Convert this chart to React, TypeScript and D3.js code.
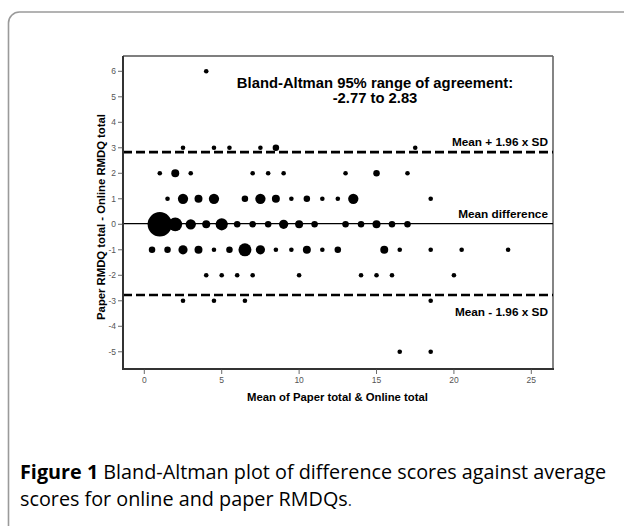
import React from "react";
import * as d3 from "d3";

// Data: mean of paper & online totals (x), difference paper - online (y), number of subjects (dot size)
const meanScore: number[] = [
  4.0,
  2.5, 4.5, 5.5, 7.5, 8.5, 17.5,
  1.0, 2.0, 3.0, 7.0, 8.0, 9.0, 13.0, 15.0, 17.0,
  1.5, 2.5, 3.5, 4.5, 6.5, 7.5, 8.5, 9.5, 10.5, 11.5, 12.5, 13.5, 18.5,
  1.0, 2.0, 3.0, 4.0, 5.0, 6.0, 7.0, 8.0, 9.0, 10.0, 11.0, 13.0, 14.0, 15.0, 16.0, 17.0,
  0.5, 1.5, 2.5, 3.5, 4.5, 5.5, 6.5, 7.5, 8.5, 9.5, 10.5, 11.5, 12.5, 15.5, 16.5, 18.5, 20.5, 23.5,
  4.0, 5.0, 6.0, 7.0, 10.0, 14.0, 15.0, 16.0, 20.0,
  2.5, 4.5, 6.5, 18.5,
  16.5, 18.5,
];
const diffScore: number[] = [
  6,
  3, 3, 3, 3, 3, 3,
  2, 2, 2, 2, 2, 2, 2, 2, 2,
  1, 1, 1, 1, 1, 1, 1, 1, 1, 1, 1, 1, 1,
  0, 0, 0, 0, 0, 0, 0, 0, 0, 0, 0, 0, 0, 0, 0, 0,
  -1, -1, -1, -1, -1, -1, -1, -1, -1, -1, -1, -1, -1, -1, -1, -1, -1, -1,
  -2, -2, -2, -2, -2, -2, -2, -2, -2,
  -3, -3, -3, -3,
  -5, -5,
];
const pointCount: number[] = [
  1,
  1, 1, 1, 1, 2, 1,
  1, 3, 1, 1, 1, 1, 1, 2, 1,
  1, 5, 3, 5, 2, 5, 3, 1, 2, 1, 1, 5, 1,
  28, 9, 5, 3, 7, 2, 2, 2, 4, 3, 2, 2, 2, 3, 2, 2,
  2, 2, 4, 3, 1, 2, 8, 4, 1, 1, 3, 1, 2, 3, 1, 1, 1, 1,
  1, 1, 1, 1, 1, 1, 1, 1, 1,
  1, 1, 1, 1,
  1, 1,
];

const meanDiff = 0.03;
const upperLimit = 2.83;
const lowerLimit = -2.77;

const xTicks: number[] = [0, 5, 10, 15, 20, 25];
const yTicks: number[] = [6, 5, 4, 3, 2, 1, 0, -1, -2, -3, -4, -5];

const titleLines: string[] = ["Bland-Altman 95% range of agreement:", "-2.77 to 2.83"];
const refLabels: string[] = ["Mean + 1.96 x SD", "Mean difference", "Mean - 1.96 x SD"];
const xTitle = "Mean of Paper total & Online total";
const yTitle = "Paper RMDQ total - Online RMDQ total";
const captionBold = "Figure 1";
const captionLine1 = " Bland-Altman plot of difference scores against average";
const captionLine2 = "scores for online and paper RMDQs";

const W = 624;
const H = 526;
const plot = { left: 123, right: 553, top: 56, bottom: 369 };

export default function App() {
  const x = d3.scaleLinear().domain([-1.376, 26.4]).range([plot.left, plot.right]);
  const y = d3.scaleLinear().domain([-5.675, 6.6]).range([plot.bottom, plot.top]);
  const r = d3.scaleSqrt().domain([0, 1]).range([0, 2.3]);

  const arial = "'Liberation Sans', Arial, sans-serif";
  const capFont = "'Open Sans', 'Noto Sans', sans-serif";
  const points = meanScore.map((m, i) => ({ m, d: diffScore[i], n: pointCount[i] }));

  return (
    <div style={{ position: "absolute", left: 0, top: 0 }}>
      <svg width={W} height={H} style={{ display: "block", background: "#fff" }}>
        {/* outer frame */}
        <rect x={8.5} y={12} width={W + 20} height={H + 20} rx={11} ry={11}
          fill="none" stroke="#9a9a9a" strokeWidth={1.6} />

        {/* plot box top & right */}
        <line x1={plot.left} x2={plot.right} y1={plot.top} y2={plot.top} stroke="#555" strokeWidth={1.3} />
        <line x1={plot.right} x2={plot.right} y1={plot.top} y2={plot.bottom} stroke="#666" strokeWidth={1.6} />

        {/* reference lines */}
        <line x1={plot.left} x2={plot.right} y1={y(upperLimit)} y2={y(upperLimit)}
          stroke="#000" strokeWidth={2.6} strokeDasharray="9 4" />
        <line x1={plot.left} x2={plot.right} y1={y(lowerLimit)} y2={y(lowerLimit)}
          stroke="#000" strokeWidth={2.6} strokeDasharray="9 4" />
        <line x1={plot.left} x2={plot.right} y1={y(meanDiff)} y2={y(meanDiff)}
          stroke="#000" strokeWidth={1.3} />

        {/* points */}
        {points.map((p, i) => (
          <circle key={i} cx={x(p.m)} cy={y(p.d)} r={r(p.n)} fill="#000" />
        ))}

        {/* axes */}
        <line x1={plot.left} x2={plot.left} y1={plot.top} y2={plot.bottom + 1} stroke="#333" strokeWidth={2} />
        <line x1={plot.left - 1} x2={plot.right + 1} y1={plot.bottom} y2={plot.bottom} stroke="#333" strokeWidth={2} />

        {yTicks.map((t) => (
          <g key={"y" + t}>
            <line x1={plot.left - 5} x2={plot.left} y1={y(t)} y2={y(t)} stroke="#444" strokeWidth={0.8} />
            <text x={plot.left - 7} y={y(t) + 3} textAnchor="end" fontFamily={arial} fontSize={8.5} fill="#555">{t}</text>
          </g>
        ))}
        {xTicks.map((t) => (
          <g key={"x" + t}>
            <line x1={x(t)} x2={x(t)} y1={plot.bottom} y2={plot.bottom + 5} stroke="#444" strokeWidth={0.8} />
            <text x={x(t)} y={plot.bottom + 14} textAnchor="middle" fontFamily={arial} fontSize={8.5} fill="#555">{t}</text>
          </g>
        ))}

        {/* title inside plot */}
        <text x={375} y={88} textAnchor="middle" fontFamily={arial} fontWeight="bold" fontSize={14.8} fill="#000">{titleLines[0]}</text>
        <text x={375} y={102.5} textAnchor="middle" fontFamily={arial} fontWeight="bold" fontSize={14.8} fill="#000">{titleLines[1]}</text>

        {/* reference labels */}
        <text x={548} y={145.8} textAnchor="end" fontFamily={arial} fontWeight="bold" fontSize={11.8} fill="#000">{refLabels[0]}</text>
        <text x={548} y={217.5} textAnchor="end" fontFamily={arial} fontWeight="bold" fontSize={11.8} fill="#000">{refLabels[1]}</text>
        <text x={548} y={316} textAnchor="end" fontFamily={arial} fontWeight="bold" fontSize={11.8} fill="#000">{refLabels[2]}</text>

        {/* axis titles */}
        <text x={337.5} y={400.5} textAnchor="middle" fontFamily={arial} fontWeight="bold" fontSize={11.3} fill="#000">{xTitle}</text>
        <text transform={`translate(105,${217}) rotate(-90)`} textAnchor="middle" fontFamily={arial} fontWeight="bold" fontSize={11.3} fill="#000">{yTitle}</text>

        {/* caption */}
        <text x={20} y={479} fontFamily={capFont} fontSize={19.8} fill="#000">
          <tspan fontWeight="bold">{captionBold}</tspan>
          <tspan>{captionLine1}</tspan>
        </text>
        <text x={20} y={506} fontFamily={capFont} fontSize={19.8} fill="#000">
          {captionLine2}<tspan fill="#333" fontSize={16}>.</tspan>
        </text>
      </svg>
    </div>
  );
}
